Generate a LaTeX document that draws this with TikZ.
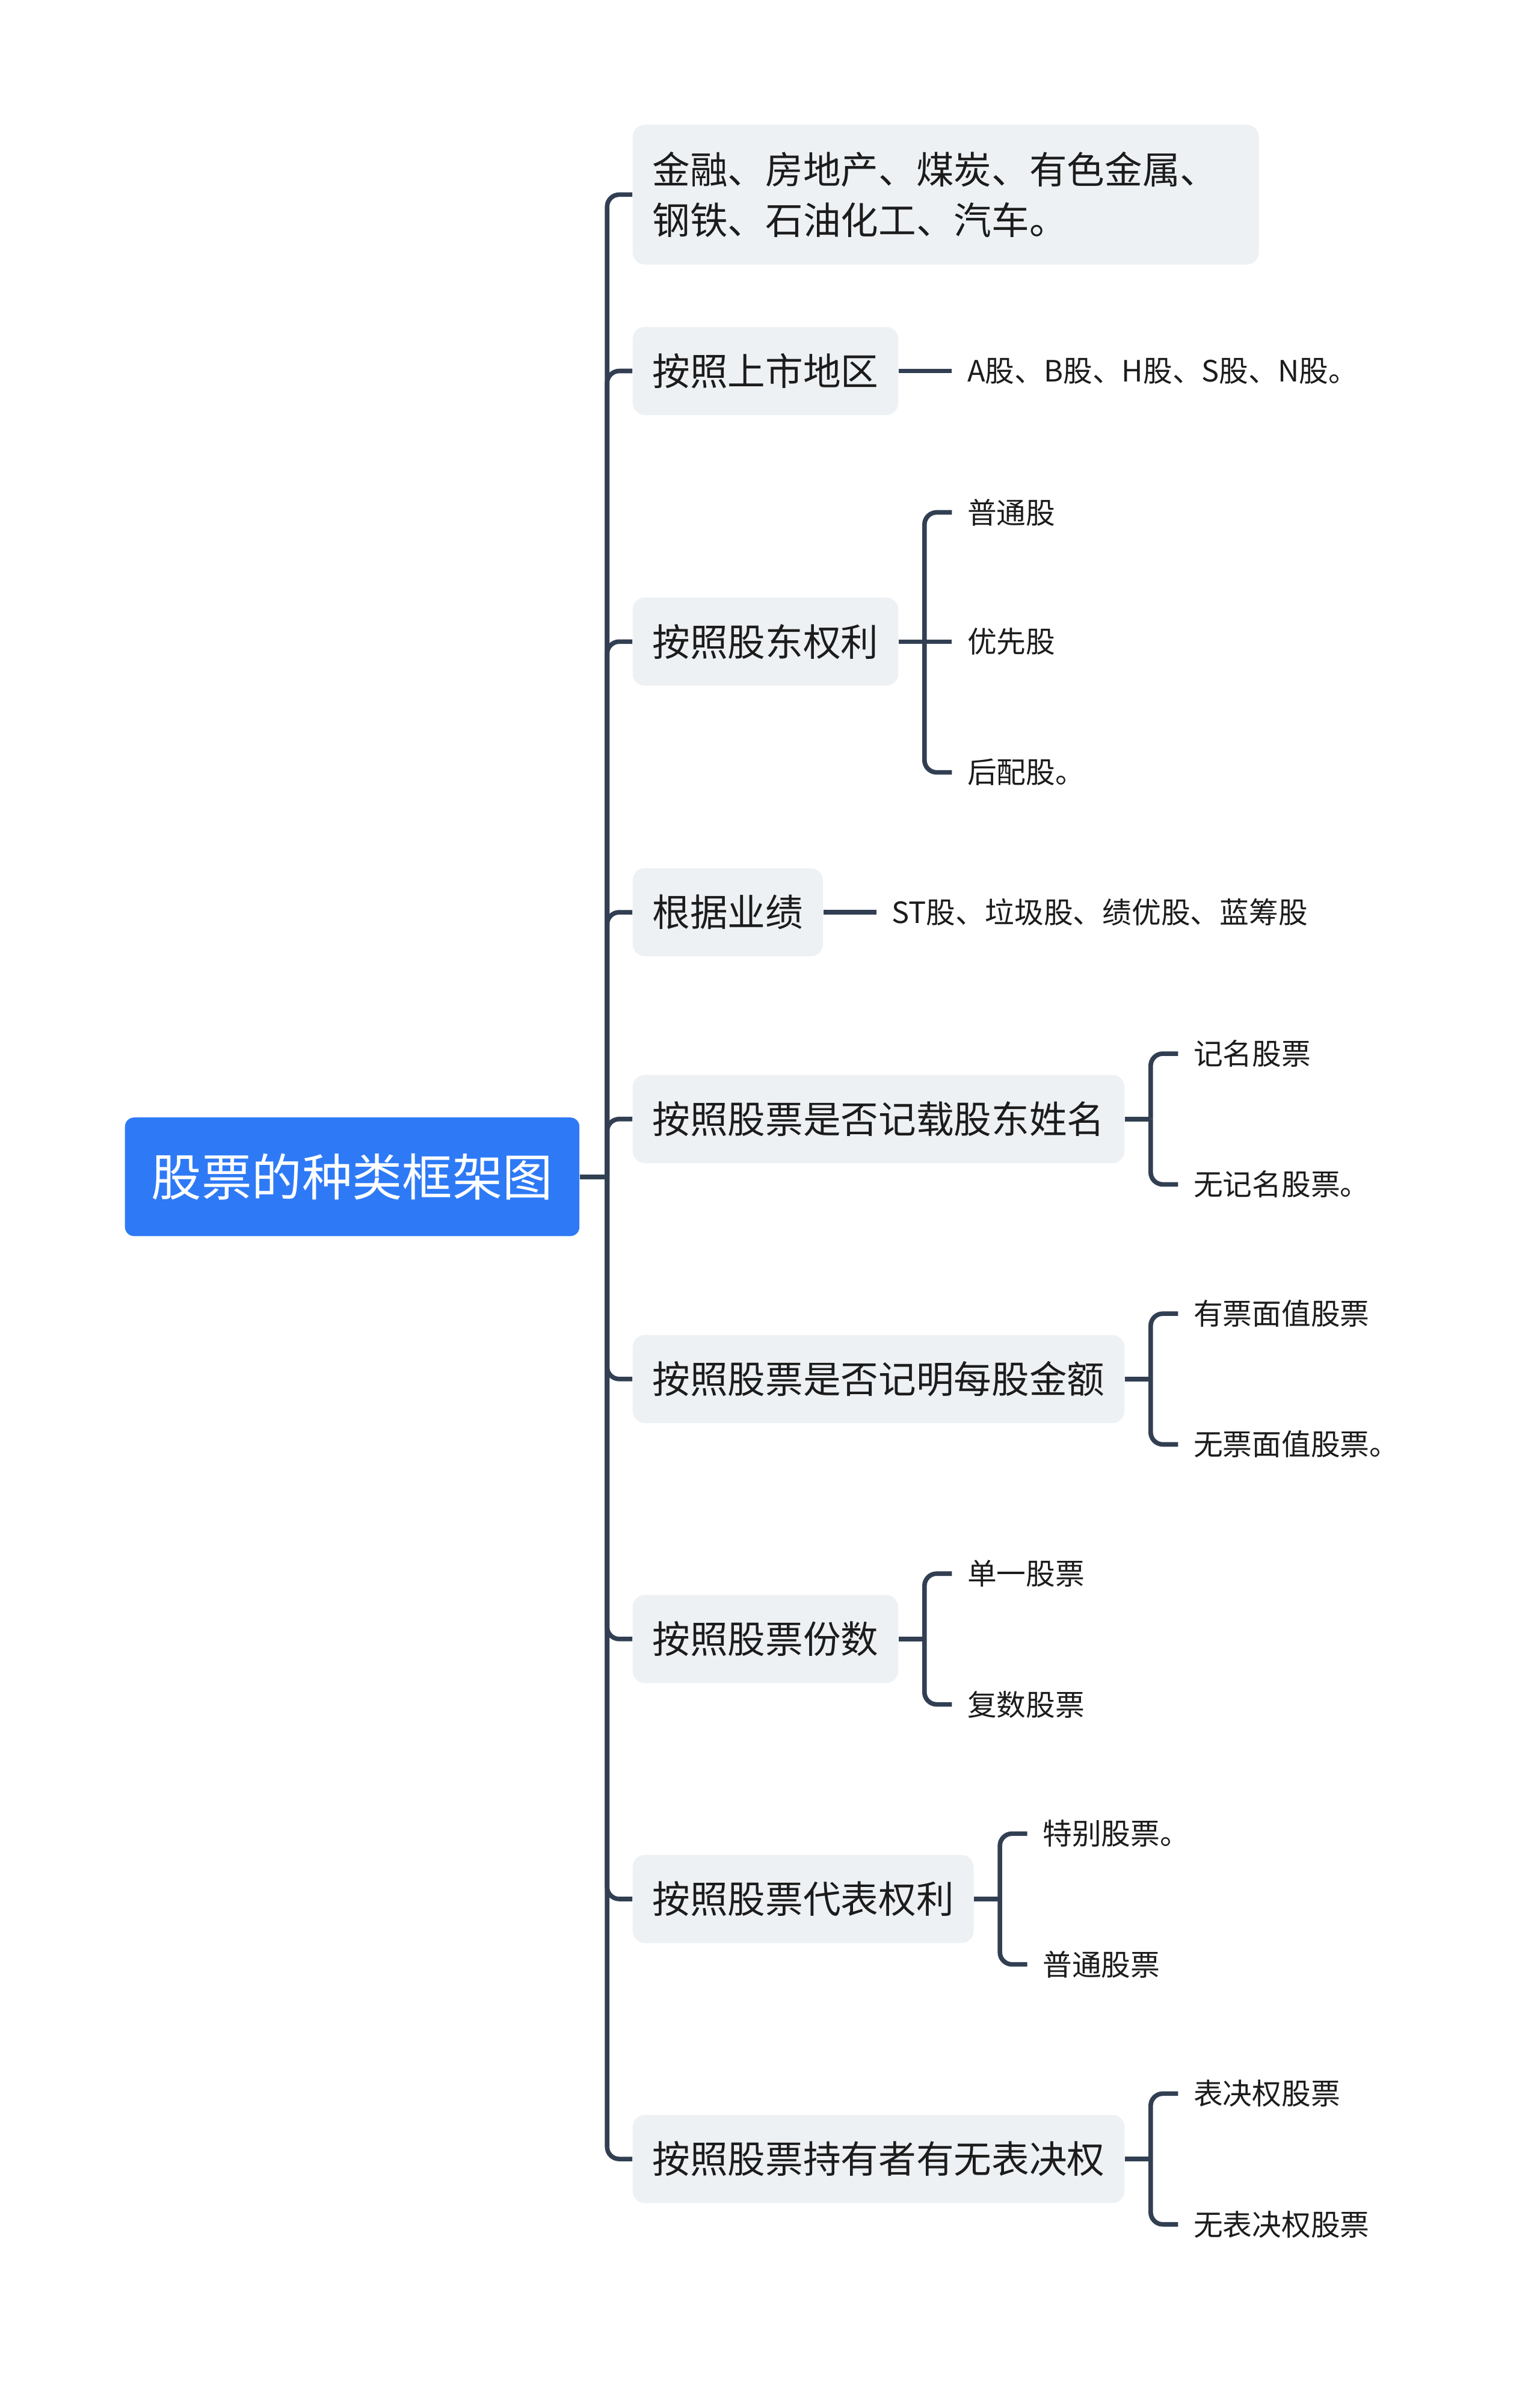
\documentclass[tikz,border=0pt]{standalone}
\usepackage{fontspec}
\setmainfont{Noto Sans CJK SC}
\usepackage{xcolor}
\usetikzlibrary{positioning}
\definecolor{rootblue}{HTML}{2E7AF6}
\definecolor{linegray}{HTML}{323F52}
\definecolor{boxbg}{HTML}{EEF1F4}
\definecolor{inkdark}{HTML}{1C1C1C}

\begin{document}
\begin{tikzpicture}[x=1pt, y=-1pt,
      root/.style={fill=rootblue, rounded corners=6pt, text=white,
                   font=\fontsize{33}{40}\selectfont,
                   minimum width=299pt, minimum height=78pt, inner sep=0pt},
      topic/.style={fill=boxbg, rounded corners=8pt, text=inkdark,
                    font=\fontsize{24.8}{33}\selectfont,
                    minimum height=58pt, inner xsep=13pt, anchor=west},
      leaf/.style={text=inkdark, font=\fontsize{19.3}{24}\selectfont,
                   inner xsep=10pt, inner ysep=0pt},
      conn/.style={draw=linegray, line width=3pt, rounded corners=8pt}
  ]
    \useasboundingbox (0,0) rectangle (1013,1568);

    \node[root, anchor=west] (root) at (82,774) {股票的种类框架图};

    \node[topic, text width=386pt, align=left, minimum height=92pt] (t1) at (416,128)
      {金融、房地产、煤炭、有色金属、\\钢铁、石油化工、汽车。};
    \node[topic] (t2) at (416,244)  {按照上市地区};
    \node[topic] (t3) at (416,422)  {按照股东权利};
    \node[topic] (t4) at (416,600)  {根据业绩};
    \node[topic] (t5) at (416,736)  {按照股票是否记载股东姓名};
    \node[topic] (t6) at (416,907)  {按照股票是否记明每股金额};
    \node[topic] (t7) at (416,1078) {按照股票份数};
    \node[topic] (t8) at (416,1249) {按照股票代表权利};
    \node[topic] (t9) at (416,1420) {按照股票持有者有无表决权};

    \node[leaf, right=35pt of t2] (l2) {A股、B股、H股、S股、N股。};
    \node[leaf, right=35pt of t3, yshift=85pt]  (l3a) {普通股};
    \node[leaf, right=35pt of t3]               (l3b) {优先股};
    \node[leaf, right=35pt of t3, yshift=-86pt] (l3c) {后配股。};
    \node[leaf, right=35pt of t4] (l4) {ST股、垃圾股、绩优股、蓝筹股};
    \node[leaf, right=35pt of t5, yshift=43pt]  (l5a) {记名股票};
    \node[leaf, right=35pt of t5, yshift=-43pt] (l5b) {无记名股票。};
    \node[leaf, right=35pt of t6, yshift=43pt]  (l6a) {有票面值股票};
    \node[leaf, right=35pt of t6, yshift=-43pt] (l6b) {无票面值股票。};
    \node[leaf, right=35pt of t7, yshift=43pt]  (l7a) {单一股票};
    \node[leaf, right=35pt of t7, yshift=-43pt] (l7b) {复数股票};
    \node[leaf, right=35pt of t8, yshift=43pt]  (l8a) {特别股票。};
    \node[leaf, right=35pt of t8, yshift=-43pt] (l8b) {普通股票};
    \node[leaf, right=35pt of t9, yshift=43pt]  (l9a) {表决权股票};
    \node[leaf, right=35pt of t9, yshift=-43pt] (l9b) {无表决权股票};

    % trunk
    \coordinate (tr) at ([xshift=18pt]root.east);
    \draw[conn] (root.east) -- (tr);
    \foreach \i in {1,...,9} \draw[conn] (tr) |- (t\i.west);

    % single leaves
    \draw[conn] (t2.east) -- (l2.west);
    \draw[conn] (t4.east) -- (l4.west);

    % brackets
    \coordinate (b3) at ([xshift=17pt]t3.east);
    \draw[conn] (t3.east) -- (b3);
    \draw[conn] (b3) |- (l3a.west);
    \draw[conn] (b3) -- (l3b.west);
    \draw[conn] (b3) |- (l3c.west);
    \foreach \i in {5,6,7,8,9} {
      \coordinate (b\i) at ([xshift=17pt]t\i.east);
      \draw[conn] (t\i.east) -- (b\i);
      \draw[conn] (b\i) |- (l\i a.west);
      \draw[conn] (b\i) |- (l\i b.west);
    }
  \end{tikzpicture}
\end{document}
